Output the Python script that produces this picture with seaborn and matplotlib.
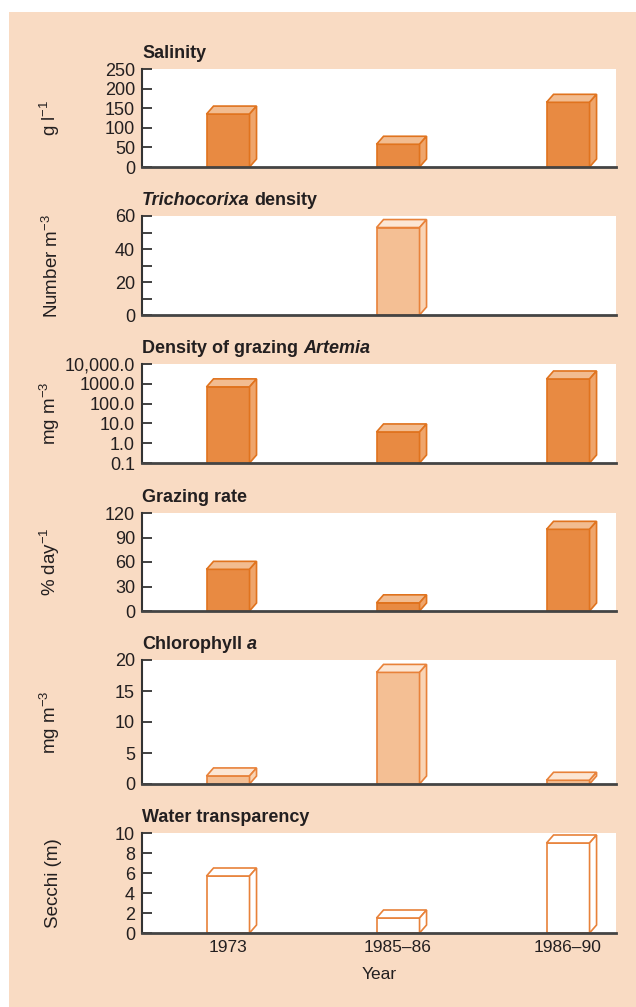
import numpy as np
import pandas as pd
import matplotlib
matplotlib.use("Agg")
import matplotlib.pyplot as plt
import seaborn as sns
from matplotlib.patches import Polygon, Rectangle
from matplotlib.ticker import FixedLocator, FixedFormatter

# data
years = ["1973", "1985–86", "1986–90"]
salinity = [135, 58, 165]
trichocorixa = [np.nan, 53, np.nan]
artemia = [700, 3.7, 1750]
grazing = [51, 10, 100]
chlorophyll = [1.3, 18, 0.6]
secchi = [5.7, 1.5, 9.0]

titles = [
    [("Salinity", "normal")],
    [("Trichocorixa", "italic"), ("density", "normal")],
    [("Density of grazing", "normal"), ("Artemia", "italic")],
    [("Grazing rate", "normal")],
    [("Chlorophyll", "normal"), ("a", "italic")],
    [("Water transparency", "normal")],
]
ylabels = [r"g l$^{-1}$", r"Number m$^{-3}$", r"mg m$^{-3}$",
           r"% day$^{-1}$", r"mg m$^{-3}$", "Secchi (m)"]

# bar styles: front, top, side, edge
styles = {
    "dark": ("#E88A42", "#F2BC90", "#EFA56B", "#E0731E"),
    "light": ("#F4BF94", "#FCE6D4", "#F9D4B5", "#E8823A"),
    "white": ("#FFFFFF", "#FFFFFF", "#FFFFFF", "#E8823A"),
}

sns.set_style("ticks")
plt.rcParams["font.family"] = ["Liberation Sans", "DejaVu Sans"]
plt.rcParams["mathtext.fontset"] = "custom"
plt.rcParams["mathtext.rm"] = "Liberation Sans"
plt.rcParams["mathtext.it"] = "Liberation Sans:italic"
plt.rcParams["mathtext.bf"] = "Liberation Sans:bold"
plt.rcParams["text.color"] = "#231F20"
plt.rcParams["axes.labelcolor"] = "#231F20"
plt.rcParams["xtick.color"] = "#231F20"
plt.rcParams["ytick.color"] = "#231F20"

W, H = 636, 1007
fig = plt.figure(figsize=(W / 100, H / 100), dpi=100, facecolor="white")
fig.patches.append(Rectangle((9 / W, 0), 1, (H - 12) / H, transform=fig.transFigure,
                             facecolor="#F9DBC3", edgecolor="none", zorder=-10))

# panel boxes in pixels (top, bottom)
boxes = [(69, 167), (216, 315), (364, 463), (513, 611), (660, 784), (833, 933)]
left, right = 142, 616

panels = [
    (salinity, "dark", (0, 250), list(range(0, 251, 50))),
    (trichocorixa, "light", (0, 60), [0, 20, 40, 60]),
    (artemia, "dark", (0.1, 10000), [0.1, 1, 10, 100, 1000, 10000]),
    (grazing, "dark", (0, 120), list(range(0, 121, 30))),
    (chlorophyll, "light", (0, 20), list(range(0, 21, 5))),
    (secchi, "white", (0, 10), list(range(0, 11, 2))),
]

DX, DY = 7, 8


def draw_title(ax, parts):
    anchor = None
    for text, style in parts:
        kw = dict(fontsize=13, fontweight="bold", fontstyle=style, ha="left")
        if anchor is None:
            anchor = ax.annotate(text, xy=(0, 1), xycoords="axes fraction",
                                 xytext=(0, 8), textcoords="offset points",
                                 va="baseline", **kw)
        else:
            anchor = ax.annotate(text, xy=(1, 0), xycoords=anchor,
                                 xytext=(3.6, 0), textcoords="offset points",
                                 va="bottom", **kw)


def add_faces(ax, style):
    front, top_c, side_c, edge = styles[style]
    inv = ax.transData.inverted()
    ybase = ax.get_ylim()[0]
    for p in list(ax.patches):
        h = p.get_height()
        if not np.isfinite(h) or h <= 0:
            continue
        x0 = p.get_x()
        x1 = x0 + p.get_width()
        y0 = max(p.get_y(), ybase)
        y1 = p.get_y() + h
        (px0, py0), (px1, py1) = ax.transData.transform([(x0, y0), (x1, y1)])
        top = [(px0, py1), (px1, py1), (px1 + DX, py1 + DY), (px0 + DX, py1 + DY)]
        side = [(px1, py0), (px1, py1), (px1 + DX, py1 + DY), (px1 + DX, py0 + DY)]
        for pts, fc in ((top, top_c), (side, side_c)):
            ax.add_patch(Polygon(inv.transform(pts), closed=True, facecolor=fc,
                                 edgecolor=edge, linewidth=1.2, clip_on=False,
                                 zorder=p.get_zorder()))


axes = []
for i, (vals, style, ylim, ticks) in enumerate(panels):
    top, bot = boxes[i]
    ax = fig.add_axes([left / W, 1 - bot / H, (right - left) / W, (bot - top) / H])
    ax.set_facecolor("white")
    front, top_c, side_c, edge = styles[style]
    df = pd.DataFrame({"year": years, "value": vals})
    if i == 2:
        ax.set_yscale("log")
    sns.barplot(data=df, x="year", y="value", order=years, color=front,
                saturation=1, width=0.253, edgecolor=edge, linewidth=1.2,
                errorbar=None, ax=ax)
    ax.set_xlim(-0.506, 2.282)
    ax.set_ylim(*ylim)
    ax.yaxis.set_major_locator(FixedLocator(ticks))
    if i == 2:
        ax.yaxis.set_major_formatter(FixedFormatter(
            ["0.1", "1.0", "10.0", "100.0", "1000.0", "10,000.0"]))
        ax.yaxis.set_minor_locator(FixedLocator([]))
    if i == 1:
        ax.yaxis.set_minor_locator(FixedLocator([10, 30, 50]))
    ax.tick_params(axis="y", which="both", direction="in", length=7, width=1.3,
                   pad=5, labelsize=13, color="#333333")
    ax.tick_params(axis="x", length=0, pad=5, labelsize=12.5)
    for s in ("top", "right"):
        ax.spines[s].set_visible(False)
    ax.spines["left"].set_color("#333333")
    ax.spines["left"].set_linewidth(1.5)
    ax.spines["bottom"].set_color("#444444")
    ax.spines["bottom"].set_linewidth(2)
    ax.set_ylabel(ylabels[i], fontsize=13.5)
    ax.yaxis.set_label_coords(-0.168, 0.5)
    if i < 5:
        ax.set_xlabel("")
        ax.tick_params(axis="x", labelbottom=False)
    else:
        ax.set_xlabel("Year", fontsize=12.5, labelpad=9)
    draw_title(ax, titles[i])
    add_faces(ax, style)
    axes.append(ax)

fig.savefig("out.png", dpi=100)
